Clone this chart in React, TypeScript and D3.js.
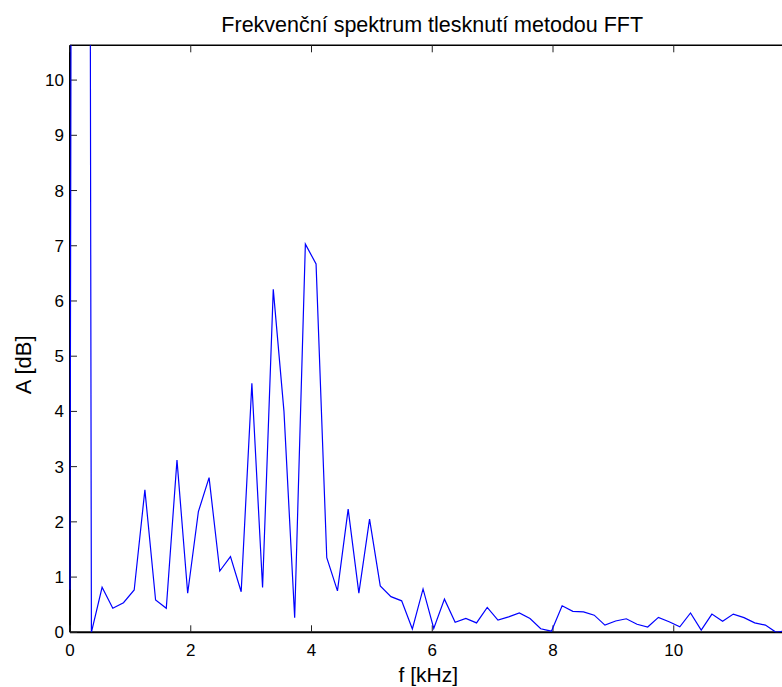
import React from "react";
import * as d3 from "d3";

const freqKHz = [
  0, 0.1772, 0.3544, 0.5316, 0.7088, 0.886, 1.0632, 1.2404, 1.4176, 1.5948,
  1.772, 1.9492, 2.1264, 2.3036, 2.4808, 2.658, 2.8352, 3.0124, 3.1896, 3.3668,
  3.544, 3.7212, 3.8984, 4.0756, 4.2528, 4.43, 4.6072, 4.7844, 4.9616, 5.1388,
  5.316, 5.4932, 5.6704, 5.8476, 6.0248, 6.202, 6.3792, 6.5564, 6.7336, 6.9108,
  7.088, 7.2652, 7.4424, 7.6196, 7.7968, 7.974, 8.1512, 8.3284, 8.5056, 8.6828,
  8.86, 9.0372, 9.2144, 9.3916, 9.5688, 9.746, 9.9232, 10.1004, 10.2776, 10.4548,
  10.632, 10.8092, 10.9864, 11.1636, 11.3408, 11.518, 11.6952, 11.8724,
];

const amplitudeDB = [
  0.77, 110, 0.0, 0.815, 0.435, 0.536, 0.766, 2.58, 0.585, 0.435,
  3.12, 0.707, 2.185, 2.8, 1.11, 1.37, 0.735, 4.51, 0.81, 6.21,
  4.0, 0.265, 7.03, 6.67, 1.35, 0.75, 2.23, 0.71, 2.05, 0.84,
  0.645, 0.57, 0.06, 0.785, 0.07, 0.6, 0.18, 0.25, 0.17, 0.45,
  0.22, 0.28, 0.35, 0.25, 0.065, 0.02, 0.48, 0.38, 0.37, 0.31,
  0.13, 0.205, 0.245, 0.145, 0.096, 0.27, 0.19, 0.1, 0.35, 0.04,
  0.33, 0.2, 0.33, 0.265, 0.17, 0.13, 0.0, 0.03,
];

const xTicks = [0, 2, 4, 6, 8, 10];
const yTicks = [0, 1, 2, 3, 4, 5, 6, 7, 8, 9, 10];
const xDomain = [0, 12];
const yDomain = [0, 10.63];

const titleText = "Frekvenční spektrum tlesknutí metodou FFT";
const xLabelText = "f [kHz]";
const yLabelText = "A [dB]";

export default function App() {
  const W = 782;
  const H = 687;
  const left = 70;
  const right = 794.5;
  const top = 45.3;
  const bottom = 632.3;

  const x = d3.scaleLinear().domain(xDomain).range([left, right]);
  const y = d3.scaleLinear().domain(yDomain).range([bottom, top]);

  const pts = freqKHz.map((f, i) => [f, amplitudeDB[i]] as [number, number]);
  const line = d3
    .line<[number, number]>()
    .x((d) => x(d[0]))
    .y((d) => y(d[1]));

  const font = "Liberation Sans, Arial, Helvetica, sans-serif";
  const tickLen = 7;

  return (
    <svg
      width={W}
      height={H}
      style={{ position: "absolute", left: 0, top: 0, background: "#fff" }}
      fontFamily={font}
    >
      <rect x={0} y={0} width={W} height={H} fill="#fff" />
      <defs>
        <clipPath id="plotClip">
          <rect x={left - 1} y={top} width={right - left + 1} height={bottom - top} />
        </clipPath>
      </defs>

      {/* axes box */}
      <line x1={left} x2={right} y1={top} y2={top} stroke="#000" strokeWidth={1.5} />
      <line x1={left} x2={right} y1={bottom} y2={bottom} stroke="#000" strokeWidth={2} />
      <line x1={left} x2={left} y1={top} y2={bottom} stroke="#000" strokeWidth={2} />
      <line x1={right} x2={right} y1={top} y2={bottom} stroke="#000" strokeWidth={1.5} />

      {/* x ticks */}
      {xTicks.map((t) => (
        <g key={"xt" + t}>
          <line x1={x(t)} x2={x(t)} y1={bottom} y2={bottom - tickLen} stroke="#222" strokeWidth={1} />
          <line x1={x(t)} x2={x(t)} y1={top} y2={top + tickLen} stroke="#222" strokeWidth={1} />
          <text x={x(t)} y={bottom + 24} textAnchor="middle" fontSize={17} fill="#000">
            {t}
          </text>
        </g>
      ))}

      {/* y ticks */}
      {yTicks.map((t) => (
        <g key={"yt" + t}>
          <line x1={left} x2={left + tickLen} y1={y(t)} y2={y(t)} stroke="#222" strokeWidth={1} />
          <line x1={right} x2={right - tickLen} y1={y(t)} y2={y(t)} stroke="#222" strokeWidth={1} />
          <text x={left - 6} y={y(t) + 6} textAnchor="end" fontSize={17} fill="#000">
            {t}
          </text>
        </g>
      ))}

      <path
        d={line(pts) || ""}
        fill="none"
        stroke="#0000ff"
        strokeWidth={1.2}
        clipPath="url(#plotClip)"
      />

      <text x={(left + right) / 2} y={32} textAnchor="middle" fontSize={21.5} fill="#000">
        {titleText}
      </text>
      <text x={(left + right) / 2 - 4} y={682} textAnchor="middle" fontSize={21} fill="#000">
        {xLabelText}
      </text>
      <text
        transform={`translate(31, ${(top + bottom) / 2 + 26}) rotate(-90)`}
        textAnchor="middle"
        fontSize={22}
        fill="#000"
      >
        {yLabelText}
      </text>
    </svg>
  );
}
